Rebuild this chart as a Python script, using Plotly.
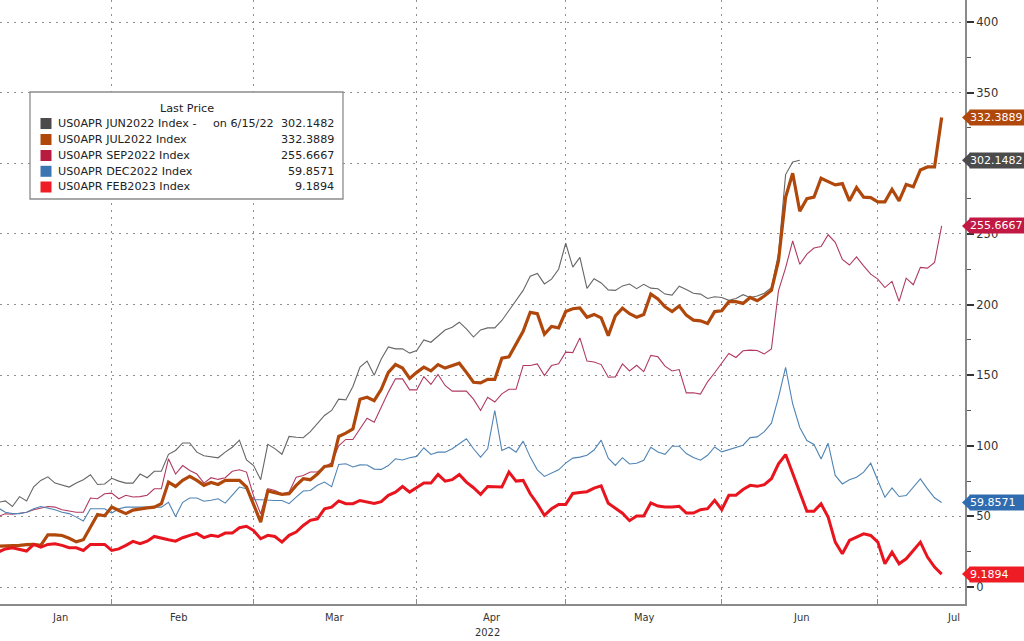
import pandas as pd
import plotly.graph_objects as go

# ---------------- data ----------------
dates = pd.bdate_range("2022-01-10", "2022-07-14")  # weekday axis (134 points)

jul2022 = [29, 29, 29.2, 29.5, 30, 30.2, 29.5,
           37, 37, 36.5, 34.5, 32, 33.5,
           42.5, 51.4, 50.5, 56.6,
           54.2, 52, 54.5, 55.5, 56, 56.6, 59,
           74.3, 71.2, 75.5, 78.3, 75.5,
           72, 74, 72.6, 75.5, 75.5, 75.5, 70.8,
           59, 46, 68, 67, 65.6, 66,
           72, 76.7, 76, 80, 85.4, 86,
           106.6, 109, 112, 133, 134.4, 132, 140, 152,
           157.5, 155, 147.7, 152, 155.7, 153, 157.5, 155, 157,
           158.5, 152, 145, 144.5, 147, 147,
           162, 163, 172, 181, 194.5, 193.5, 179, 184.5, 183.5,
           195, 197, 197.6, 191, 193, 190.6, 178, 192, 197.5, 193.5, 191, 193, 207.4, 204,
           198.4, 195, 199, 192.5, 189, 188.5, 186.6, 195, 195.6, 202, 202, 200.8, 205, 202.7, 206,
           210, 231, 276, 293, 266, 275, 276, 289.4, 287, 284.7, 285.6, 273.4, 282.8, 276, 275.7,
           272.7, 272.7, 281.6, 273.4, 285, 283.3, 295.3, 297.4, 297.4, 332.3889]

sep2022 = [50, 51.9, 51.5, 52.4, 53, 54.7, 56, 57, 56.6, 54.7, 53.8, 53, 53,
           63, 62.5, 66, 66.5, 62.5, 65, 63.7, 64, 65, 69.6, 69.6,
           90.8, 80, 86, 82.5, 80,
           73.6, 77.4, 76.2, 77.4, 82, 83, 81.4,
           64.5, 51.9, 69.6, 68.4, 66, 67.2, 77.8, 79, 81.4, 81.4, 85, 88,
           100, 104.5, 104.5, 112, 119.5, 116.7, 128, 138,
           147.4, 147.4, 139.6, 139.6, 149, 143.4, 150.5, 142.7, 138.7, 138.7, 138.7,
           133, 125, 134.4, 131, 136.8, 140, 140, 156.8, 156.8, 158, 149.8, 156.8, 158,
           166.3, 166, 176.4, 160, 159.3, 157.5, 148.5, 148.8, 158, 153, 157, 152.5, 164, 163,
           156.4, 153, 154, 137.5, 137.5, 136.6, 145.3, 151.7, 158.3, 165.4, 162.5, 167.3, 167.7, 167.5, 165, 168.5,
           209.8, 226, 245, 228.5, 235.7, 240, 241, 249.4, 244, 232, 228, 233.8, 227.4, 221.5, 218, 212,
           216.4, 202.2, 218.7, 214, 226.3, 225.8, 229.8, 255.6667]

dec2022 = [56, 53, 52, 52, 53, 55.4, 57, 56, 54.7, 53, 52, 49.5, 46.7,
           55.4, 55.4, 55.4, 52.4, 55.4, 56.6, 56.6, 56.6, 56.6, 57, 56.6,
           60, 50, 60, 63, 63,
           60.8, 61.5, 62.5, 59.4, 64.9, 70.8, 69.6,
           61.8, 61.8, 61.3, 61.3, 61.3, 59, 63.7, 68, 68.4, 72, 74.3, 71,
           86.8, 87.3, 85, 86.5, 86.4, 83.5, 83.3, 86,
           90.8, 90, 91.5, 92.5, 98.6, 93.9, 95.5, 95.5, 97.9, 101.4, 105,
           97.9, 92, 97.9, 125, 96.7, 99, 95.5, 103.3, 92, 83, 78.3, 80.7, 83,
           87.7, 91.3, 92, 93.3, 97, 104, 91.2, 86.1, 91.6, 87.1, 87.6, 89.7, 98.9, 95.6,
           94, 99.7, 99.7, 94.5, 91.7, 89.8, 93.3, 99.2, 95.7, 97.3, 98.7, 100.4, 105.8, 106.3, 110, 116,
           134.3, 155.5, 129.6, 113, 103.7, 100.9, 90.7, 101.8, 79, 73, 75.9, 77.8, 81.3, 87.7, 75.4, 63.6,
           70.2, 64.1, 64.8, 70.7, 76.6, 69.5, 63.2, 59.8571]

feb2023 = [24.8, 27, 27.8, 26.4, 25.5, 30.2, 28.3, 30.2, 30.7, 29.5, 27.8, 27.8, 25.9,
           30.2, 30.2, 30.2, 25.9, 27, 29.5, 32.3, 30.7, 32.5, 35.8, 34.9,
           33.5, 32.5, 34.9, 36.6, 38,
           35, 36.6, 35.8, 38.2, 38.2, 42, 43,
           40, 34.2, 36.6, 35.8, 31.8, 36.6, 38.9, 43.6, 47.2, 48.3, 55.4, 56.6,
           61, 59, 59, 61.3, 60, 59.2, 60.5, 64.9,
           67.2, 71.2, 67.2, 70.3, 73.6, 73.6, 79.7, 75, 76, 79.7, 74.3,
           70.3, 65.6, 71.2, 70.8, 70.8, 81.4, 75, 75.5, 66, 59, 50.7, 55.4, 58.5,
           58.5, 66.3, 67, 67.5, 70, 71.6, 59.3, 55.5, 52.3, 47, 50.3, 50.3, 59.6, 57.3,
           56.7, 56.7, 57.2, 52.4, 52.4, 54.8, 55.5, 61.4, 54.8, 65, 65, 69, 72, 71.3, 72.5, 76.7,
           87.2, 93.8, 80.1, 66, 53.7, 53.7, 58.9, 49.5, 31.8, 23.6, 33, 35.4, 37.7, 36.5, 31.8, 16.5,
           24.7, 16.5, 20, 25.9, 31.8, 21.2, 14.1, 9.1894]

jun2022 = [60, 61, 57, 64, 61, 71, 75.5, 78, 73.6, 72, 70.8, 73.6, 76,
           79.5, 72.6, 73, 77, 75, 73.6, 73.6, 80, 77.4, 82, 82,
           94, 96.7, 102, 102, 95.5,
           93, 92, 91.5, 95.5, 99, 104, 90,
           86, 76, 101, 98, 94, 106.6, 106, 105.7, 110, 115.6, 121.5, 125,
           133, 132.5, 142, 155.7, 160, 150, 161.5, 170,
           168.6, 168.6, 165.6, 167.5, 175, 173.3, 177.4, 182, 184, 187.5, 182.8,
           177, 182, 183.5, 183.5, 188.7, 195.8, 202.8, 210, 220, 222, 214.6, 218, 225,
           243.4, 226.5, 233.4, 211.5, 218.3, 215.3, 210.4, 210, 213.2, 214.5, 211.2, 214.3, 211.6, 211.2,
           207.4, 206.7, 213, 210.7, 208, 207.4, 204.3, 205.5, 205, 203, 204.3, 207, 205, 206, 208, 212,
           236, 292, 301, 302.1482]

series_names = ["US0APR JUN2022 Index -", "US0APR JUL2022 Index", "US0APR SEP2022 Index",
                "US0APR DEC2022 Index", "US0APR FEB2023 Index"]
last_values = ["302.1482", "332.3889", "255.6667", "59.8571", "9.1894"]
last_numbers = [302.1482, 332.3889, 255.6667, 59.8571, 9.1894]

month_ticks = ["2022-02-01", "2022-03-01", "2022-04-01", "2022-05-02", "2022-06-01", "2022-07-01"]
month_labels = ["Jan", "Feb", "Mar", "Apr", "May", "Jun", "Jul"]
y_ticks = [0, 50, 100, 150, 200, 250, 300, 350, 400]
y_ticktext = ["0", "50", "100", "150", "200", "250", "", "350", "400"]  # 300 sits under a badge

# ---------------- styling ----------------
W, H = 1024, 641
ML, MR, MT, MB = 0, 59, 0, 37
PW, PH = W - ML - MR, H - MT - MB

swatch_colors = ["#4b4b4b", "#b0480c", "#b81b40", "#3a76b2", "#ee1c24"]
line_colors = ["#666666", "#b0480c", "#b03a60", "#4f84b4", "#e8141e"]
line_widths = [1.1, 3.2, 1.1, 1.1, 3.0]
badge_colors = ["#4b4b4b", "#b0480c", "#c21844", "#2f6cb0", "#ee1c24"]
FONT = "DejaVu Sans, Verdana, sans-serif"
COND = "DejaVu Sans Condensed, Liberation Sans Narrow, Liberation Sans, sans-serif"
LEG = 11.2


def px_x(px):
    return (px - ML) / PW


def px_y(py):
    return (H - MB - py) / PH


fig = go.Figure()
series = [jun2022, jul2022, sep2022, dec2022, feb2023]
order = [2, 3, 0, 1, 4]  # thin lines first, thick on top
for k in order:
    vals = series[k]
    fig.add_trace(go.Scatter(
        x=dates[:len(vals)], y=vals, mode="lines",
        line=dict(color=line_colors[k], width=line_widths[k]),
        name=series_names[k], showlegend=False, hoverinfo="skip"))

fig.update_layout(
    width=W, height=H,
    margin=dict(l=ML, r=MR, t=MT, b=MB),
    paper_bgcolor="white", plot_bgcolor="white",
    showlegend=False,
    font=dict(family=FONT, size=11.5, color="#333333"),
)

fig.update_xaxes(
    type="date",
    range=["2022-01-10 06:00", "2022-07-19 07:00"],
    rangebreaks=[dict(bounds=["sat", "mon"])],
    tickvals=month_ticks, ticktext=[""] * len(month_ticks),
    ticks="inside", ticklen=5, tickcolor="#8a8a8a", tickwidth=1,
    showgrid=True, gridcolor="#8f8f8f", griddash="2px,5px", gridwidth=1,
    showline=True, linecolor="#8a8a8a", linewidth=2,
    zeroline=False, fixedrange=True,
)

fig.update_yaxes(
    side="right",
    range=[-12, 415.6],
    tickvals=y_ticks, ticktext=y_ticktext,
    ticks="outside", ticklen=7, tickwidth=2, tickcolor="#333333",
    minor=dict(dtick=25, tick0=0, ticks="outside", ticklen=4, tickwidth=1,
               tickcolor="#555555", showgrid=False),
    showgrid=True, gridcolor="#8f8f8f", griddash="2px,5px", gridwidth=1,
    showline=True, linecolor="#8a8a8a", linewidth=2,
    zeroline=False,
    tickfont=dict(family=FONT, size=11.5, color="#333333"),
)

shapes = []
annotations = []

# ---- legend box ----
shapes.append(dict(type="rect", xref="paper", yref="paper",
                   x0=px_x(30), x1=px_x(343), y0=px_y(199), y1=px_y(92),
                   line=dict(color="#8c8c8c", width=1.3), fillcolor="white", layer="above"))
annotations.append(dict(xref="paper", yref="paper", x=px_x(187), y=px_y(108),
                        text="Last Price", showarrow=False, xanchor="center", yanchor="middle",
                        font=dict(family=FONT, size=LEG, color="#222222")))
row_y = [123.5, 139.5, 155.5, 171.3, 187]
for k in range(5):
    yc = row_y[k]
    shapes.append(dict(type="rect", xref="paper", yref="paper",
                       x0=px_x(40.5), x1=px_x(51.5), y0=px_y(yc + 5.5), y1=px_y(yc - 5.5),
                       line=dict(width=0), fillcolor=swatch_colors[k], layer="above"))
    annotations.append(dict(xref="paper", yref="paper", x=px_x(55.5), y=px_y(yc),
                            text=series_names[k], showarrow=False, xanchor="left", yanchor="middle",
                            font=dict(family=FONT, size=LEG, color="#222222")))
    annotations.append(dict(xref="paper", yref="paper", x=px_x(336), y=px_y(yc),
                            text=last_values[k], showarrow=False, xanchor="right", yanchor="middle",
                            font=dict(family=FONT, size=LEG, color="#222222")))
annotations.append(dict(xref="paper", yref="paper", x=px_x(211), y=px_y(row_y[0]),
                        text="on 6/15/22", showarrow=False, xanchor="left", yanchor="middle",
                        font=dict(family=FONT, size=LEG, color="#222222")))

# ---- right-hand value badges ----
unit_px = PH / (415.6 + 12)
half = 7.5 / unit_px
for k in range(5):
    v = last_numbers[k]
    shapes.append(dict(type="path", xref="paper", yref="y",
                       path=f"M {px_x(962)},{v} L {px_x(970)},{v + half} L {px_x(970)},{v - half} Z",
                       line=dict(width=0), fillcolor=badge_colors[k], layer="above"))
    annotations.append(dict(xref="paper", yref="y", x=px_x(969), y=v,
                            text=last_values[k], showarrow=False, xanchor="left", yanchor="middle",
                            align="left", width=62, height=15, bgcolor=badge_colors[k], borderpad=0,
                            font=dict(family=FONT, size=11, color="white")))

# ---- month labels ----
month_px = [60, 178, 335, 492, 644, 801, 953]
for lab, mx in zip(month_labels, month_px):
    annotations.append(dict(xref="paper", yref="paper", x=px_x(mx), y=px_y(617),
                            text=lab, showarrow=False, xanchor="center", yanchor="middle",
                            font=dict(family=COND, size=11, color="#333333")))
annotations.append(dict(xref="paper", yref="paper", x=px_x(487), y=px_y(632),
                        text="2022", showarrow=False, xanchor="center", yanchor="middle",
                        font=dict(family=COND, size=11, color="#333333")))

fig.update_layout(shapes=shapes, annotations=annotations)

fig.write_html("out.html")
